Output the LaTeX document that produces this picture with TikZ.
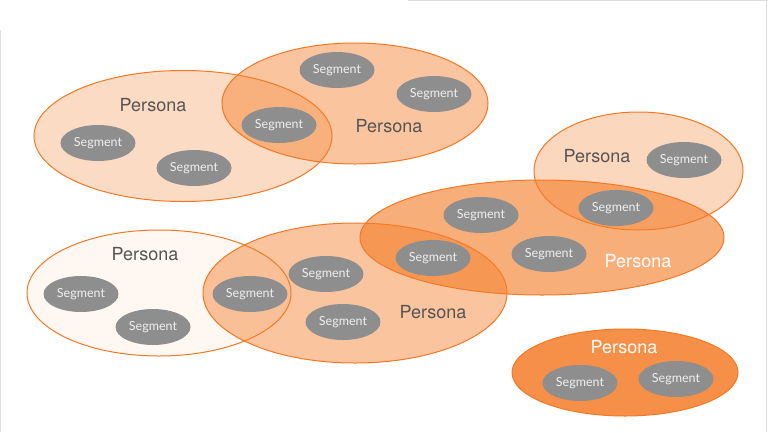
\documentclass[tikz,border=0pt]{standalone}
\usepackage{fontspec}
\usetikzlibrary{shapes.geometric}
\setmainfont{TeX Gyre Heros}
\newfontfamily\segfont{Lato}
\definecolor{ora}{RGB}{245,125,40}
\definecolor{oraline}{RGB}{244,120,36}
\definecolor{seggray}{RGB}{142,142,142}
\definecolor{segtext}{RGB}{240,240,240}
\definecolor{txtgray}{RGB}{85,85,85}
\definecolor{edgegray}{RGB}{222,222,222}
\begin{document}
\begin{tikzpicture}[x=1pt,y=-1pt,
  pellipse/.style={draw=oraline,line width=1pt,fill=ora,fill opacity=#1},
  seg/.style={ellipse,fill=seggray,minimum width=75pt,minimum height=36pt,inner sep=0pt,
    text=segtext,font=\segfont\fontsize{12.5}{12.5}\selectfont},
  plabel/.style={font=\fontsize{18}{18}\selectfont,text=txtgray},
  plabelw/.style={font=\fontsize{18}{18}\selectfont,text=white}
]
\useasboundingbox (0,0) rectangle (768,432);
\fill[white] (0,0) rectangle (768,432);
% faint frame lines
\draw[edgegray,line width=1pt] (408,0.5) coordinate (t1) -- (768,0.5) coordinate (t2);
\draw[edgegray,line width=1pt] (766.5,0) coordinate (r1) -- (766.5,432) coordinate (r2);
\draw[edgegray,line width=1pt] (0.5,30) coordinate (l1) -- (0.5,432) coordinate (l2);

% Persona ellipses
\draw[pellipse=0.27] (183,136) ellipse [x radius=149, y radius=65.5];
\draw[pellipse=0.45] (355,103.5) ellipse [x radius=133, y radius=60.5];
\draw[pellipse=0.30] (638.5,171) ellipse [x radius=104.5, y radius=59];
\draw[pellipse=0.06] (159,293) ellipse [x radius=132, y radius=63];
\draw[pellipse=0.45] (355,293) ellipse [x radius=152, y radius=70];
\draw[pellipse=0.62] (542,237.5) ellipse [x radius=182, y radius=57.5];
\draw[pellipse=0.85] (625,372.5) ellipse [x radius=113, y radius=43.5];

% Persona labels
\node[plabel] (p1) at (153,105) {Persona};
\node[plabel] (p2) at (389,126) {Persona};
\node[plabel] (p3) at (597,156) {Persona};
\node[plabelw] (p4) at (638,261) {Persona};
\node[plabel] (p5) at (145,254) {Persona};
\node[plabel] (p6) at (433,312) {Persona};
\node[plabelw] (p7) at (624,347) {Persona};

% Segments
\node[seg] (s1) at (98,143) {Segment};
\node[seg] (s2) at (194,168) {Segment};
\node[seg] (s3) at (279,125) {Segment};
\node[seg] (s4) at (337,70) {Segment};
\node[seg] (s5) at (434,94) {Segment};
\node[seg] (s6) at (684,160) {Segment};
\node[seg] (s7) at (616,208) {Segment};
\node[seg] (s8) at (481,215) {Segment};
\node[seg] (s9) at (549,254) {Segment};
\node[seg] (s10) at (433,258) {Segment};
\node[seg] (s11) at (81,294) {Segment};
\node[seg] (s12) at (153,327) {Segment};
\node[seg] (s13) at (250,294) {Segment};
\node[seg] (s14) at (326,274) {Segment};
\node[seg] (s15) at (343,322) {Segment};
\node[seg] (s16) at (580,383) {Segment};
\node[seg] (s17) at (676,379) {Segment};
\end{tikzpicture}
\end{document}
